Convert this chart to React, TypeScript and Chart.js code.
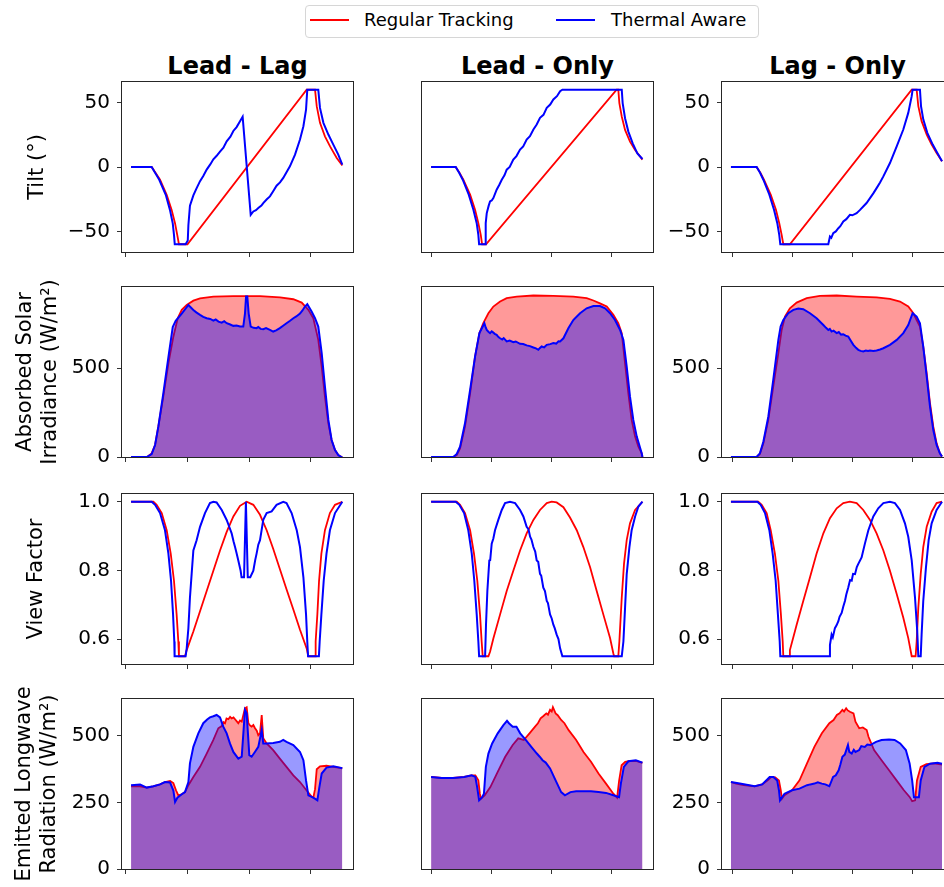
import React, { useEffect, useRef } from 'react';
import { Chart, registerables } from 'chart.js';

Chart.register(...registerables);
Chart.defaults.font.family = "'DejaVu Sans', sans-serif";

type Pt = [number, number];

// ---------- text ----------
const columnTitles = ['Lead - Lag', 'Lead - Only', 'Lag - Only'];
const seriesNames = ['Regular Tracking', 'Thermal Aware'];
const rowTitles: (string | string[])[] = [
  'Tilt (°)',
  ['Absorbed Solar', 'Irradiance (W/m²)'],
  'View Factor',
  ['Emitted Longwave', 'Radiation (W/m²)'],
];

// ---------- axes ----------
const hourTicks = [4, 8, 12, 16];
const columnHourRange: Pt[] = [[3.806, 18.71], [3.353, 18.753], [3.313, 18.713]];
const tiltTicks = [-50, 0, 50];
const tiltRange: Pt = [-66, 66];
const absorbedTicks = [0, 500];
const absorbedRange: Pt = [0, 958];
const viewFactorTicks = [0.6, 0.8, 1.0];
const viewFactorRange: Pt = [0.5275, 1.0225];
const emittedTicks = [0, 250, 500];
const emittedRange: Pt = [0, 639];

// ---------- Tilt (deg) ----------
const leadLagTiltRegular: Pt[] = [[4.39,0],[5.72,0],[6.0,-5],[6.26,-9.9],[6.69,-21.6],[7.01,-33.3],[7.23,-43.8],[7.37,-52.7],[7.48,-60],[8.03,-60],[15.72,60],[16.26,60],[16.37,47.2],[16.58,34.3],[16.9,23.8],[17.23,16.0],[17.66,7.0],[18.02,1.2]];
const leadLagTiltThermal: Pt[] = [[4.39,0],[5.72,0],[5.97,-5],[6.21,-9.9],[6.63,-21.6],[6.9,-33.3],[7.08,-43.8],[7.16,-52.7],[7.21,-60],[7.91,-60],[8.05,-57],[8.09,-45],[8.19,-30],[8.41,-22],[8.6,-17],[8.84,-11],[9.05,-7],[9.27,-2],[9.5,2],[9.7,6],[9.9,8.5],[10.13,12],[10.35,15],[10.56,20],[10.8,23.5],[10.99,28],[11.2,31],[11.42,35.5],[11.59,39],[12.11,-37.1],[12.28,-34.5],[12.45,-33.5],[12.6,-31.9],[12.8,-30],[12.92,-28],[13.15,-25],[13.35,-22.8],[13.55,-19],[13.78,-14.5],[14.0,-12],[14.21,-8.5],[14.42,-4],[14.64,0.5],[14.97,9.6],[15.29,21.3],[15.51,31.7],[15.68,44.6],[15.76,60],[16.47,60],[16.58,45.9],[16.8,34.3],[17.12,25.2],[17.44,17.4],[17.76,9.6],[18.02,1.8]];
const leadOnlyTiltRegular: Pt[] = [[3.96,0],[5.6,0],[5.85,-4.5],[6.11,-9.9],[6.56,-21.5],[6.89,-33.2],[7.11,-43.6],[7.27,-52.7],[7.36,-60],[7.62,-60],[16.33,60],[16.44,60],[16.51,49.6],[16.67,39.2],[16.89,28.8],[17.22,19.7],[17.56,13.2],[18.05,5.7]];
const leadOnlyTiltThermal: Pt[] = [[3.96,0],[5.6,0],[5.83,-4.5],[6.07,-9.9],[6.47,-21.5],[6.78,-33.2],[7.0,-43.6],[7.11,-52.7],[7.16,-60],[7.56,-60],[7.6,-43.6],[7.67,-35.8],[7.8,-30],[7.89,-26.7],[8.0,-26],[8.11,-24.1],[8.33,-17.6],[8.5,-14],[8.67,-9.9],[8.85,-6.5],[9.0,-2.1],[9.2,0],[9.44,5.7],[9.65,8.5],[9.89,13.5],[10.1,16],[10.33,21.3],[10.55,24],[10.78,29.1],[11.0,33],[11.22,38.2],[11.45,40.5],[11.67,45.9],[11.9,48.5],[12.11,52.4],[12.35,55],[12.56,58.9],[12.71,60],[16.67,60],[16.73,49.6],[16.89,37.9],[17.11,27.5],[17.4,18.4],[17.71,10.6],[18.05,6.2]];
const lagOnlyTiltRegular: Pt[] = [[3.91,0],[5.62,0],[5.87,-4.5],[6.11,-9.9],[6.56,-21.5],[6.91,-33.2],[7.13,-43.6],[7.29,-52.7],[7.4,-60],[7.84,-60],[15.96,60],[16.29,60],[16.4,47.3],[16.62,35.6],[16.96,25.2],[17.29,17.4],[17.62,10.9],[17.98,4.4]];
const lagOnlyTiltThermal: Pt[] = [[3.91,0],[5.62,0],[5.85,-4.5],[6.07,-9.9],[6.47,-21.5],[6.78,-33.2],[7.0,-43.6],[7.13,-52.7],[7.2,-60],[10.4,-60],[10.51,-54.0],[10.6,-55],[10.73,-51.4],[10.9,-50],[11.07,-47.5],[11.2,-46],[11.4,-42.3],[11.6,-40.5],[11.84,-37.1],[12.0,-37.5],[12.29,-35.8],[12.5,-33.5],[12.73,-30.7],[12.95,-28],[13.18,-24.2],[13.4,-20.5],[13.62,-16.4],[13.85,-12],[14.07,-7.3],[14.51,3.1],[14.96,16.1],[15.4,29.1],[15.73,42.0],[15.96,55.0],[16.02,60],[16.51,60],[16.58,47.3],[16.73,37],[17.0,26.5],[17.36,17.4],[17.67,10.9],[17.98,4.4]];

// ---------- Absorbed solar irradiance (W/m2) ----------
const leadLagAbsorbedRegular: Pt[] = [[4.39,0],[5.4,0],[5.51,5.6],[5.72,20.7],[5.94,67.6],[6.15,171],[6.47,340],[6.8,528],[7.12,678],[7.4,782],[7.66,829],[7.98,857],[8.41,881],[8.84,894],[9.7,904],[10.99,907],[12.71,907],[14.0,900],[14.86,889],[15.4,870],[15.83,829],[16.15,782],[16.47,660],[16.69,509],[16.9,340],[17.12,190],[17.33,96],[17.55,39.5],[17.76,11.3],[17.92,1.9],[18.02,0]];
const leadLagAbsorbedThermal: Pt[] = [[4.39,0],[5.4,0],[5.72,16.9],[5.94,67.6],[6.15,171],[6.47,357],[6.8,563],[7.08,733],[7.27,767],[7.66,808],[8.09,857],[8.41,829],[8.6,815],[8.84,801],[9.05,790],[9.27,782],[9.5,778],[9.7,769],[9.85,775],[10.03,763],[10.24,757],[10.4,765],[10.56,754],[10.75,748],[10.99,739],[11.2,741],[11.42,735],[11.63,735],[11.74,808],[11.81,904],[11.89,904],[11.98,808],[12.11,735],[12.3,728],[12.49,726],[12.6,733],[12.75,722],[12.92,720],[13.1,726],[13.35,716],[13.56,707],[13.75,714],[13.99,726],[14.2,740],[14.42,754],[14.65,768],[14.86,782],[15.05,792],[15.29,808],[15.45,826],[15.61,848],[15.76,861],[16.04,820],[16.26,782],[16.47,735],[16.69,585],[16.9,397],[17.12,209],[17.33,96],[17.55,39.5],[17.76,11.3],[17.92,1.9],[18.02,0]];
const leadOnlyAbsorbedRegular: Pt[] = [[3.96,0],[5.44,0],[5.67,11.3],[5.89,48.8],[6.22,171],[6.56,359],[6.89,566],[7.18,698],[7.44,754],[7.78,810],[8.11,848],[8.56,876],[9.0,895],[9.67,904],[10.78,910],[12.11,908],[13.44,904],[14.33,895],[14.78,882],[15.22,866],[15.67,848],[16.11,801],[16.44,754],[16.67,698],[16.89,528],[17.11,359],[17.33,209],[17.56,115],[17.78,58],[18.0,20.7],[18.05,0]];
const leadOnlyAbsorbedThermal: Pt[] = [[3.96,0],[5.44,0],[5.67,16.9],[5.89,58],[6.22,190],[6.56,378],[6.89,566],[7.18,698],[7.4,735],[7.51,754],[7.6,730],[7.67,716],[7.78,706],[7.89,698],[8.0,708],[8.11,701],[8.2,694],[8.33,688],[8.45,676],[8.56,669],[8.7,662],[8.8,670],[9.0,651],[9.2,656],[9.44,647],[9.6,651],[9.89,638],[10.1,637],[10.33,629],[10.55,625],[10.78,617],[10.95,612],[11.11,604],[11.2,613],[11.33,623],[11.5,618],[11.67,632],[11.9,636],[12.11,642],[12.3,639],[12.45,652],[12.56,651],[12.78,669],[13.11,725],[13.44,772],[13.89,810],[14.33,838],[14.78,851],[15.22,851],[15.56,838],[15.89,810],[16.22,772],[16.56,716],[16.78,660],[17.0,509],[17.22,340],[17.44,209],[17.67,115],[18.0,20.7],[18.05,0]];
const lagOnlyAbsorbedRegular: Pt[] = [[3.91,0],[5.62,0],[5.84,16.9],[6.07,77],[6.4,209],[6.73,397],[7.07,585],[7.29,716],[7.51,791],[7.84,838],[8.29,870],[8.96,895],[9.84,908],[10.96,910],[12.29,904],[13.62,900],[14.51,891],[15.18,876],[15.73,848],[16.07,810],[16.29,772],[16.51,735],[16.73,622],[16.96,472],[17.18,303],[17.4,171],[17.62,77],[17.84,20.7],[17.98,3]];
const lagOnlyAbsorbedThermal: Pt[] = [[3.91,0],[5.62,0],[5.84,20.7],[6.07,86],[6.4,227],[6.73,434],[7.07,660],[7.22,735],[7.4,772],[7.73,810],[8.07,829],[8.4,837],[8.73,833],[9.18,810],[9.62,782],[10.07,744],[10.25,728],[10.4,716],[10.5,722],[10.62,707],[10.75,712],[10.96,698],[11.1,704],[11.25,690],[11.4,692],[11.55,684],[11.73,679],[11.9,655],[12.07,632],[12.25,615],[12.4,604],[12.55,598],[12.73,595],[12.9,600],[13.05,597],[13.18,600],[13.4,598],[13.62,600],[13.85,606],[14.07,613],[14.51,632],[14.96,660],[15.4,698],[15.73,744],[16.02,810],[16.29,791],[16.51,754],[16.73,622],[16.96,453],[17.18,284],[17.4,152],[17.62,68],[17.84,20.7],[17.98,3]];

// ---------- View factor ----------
const leadLagViewRegular: Pt[] = [[4.39,1.0],[5.83,1.0],[6.04,0.991],[6.37,0.967],[6.69,0.917],[6.95,0.849],[7.16,0.77],[7.33,0.672],[7.44,0.593],[7.48,0.55],[7.87,0.55],[7.98,0.568],[8.41,0.622],[8.84,0.681],[9.27,0.74],[9.7,0.799],[10.13,0.858],[10.56,0.912],[10.99,0.957],[11.42,0.988],[11.85,1.0],[12.28,0.991],[12.71,0.962],[13.14,0.917],[13.56,0.863],[13.99,0.804],[14.42,0.745],[14.86,0.686],[15.29,0.627],[15.72,0.573],[15.83,0.55],[16.26,0.55],[16.3,0.593],[16.41,0.672],[16.52,0.77],[16.67,0.849],[16.9,0.917],[17.22,0.967],[17.55,0.991],[18.02,1.0]];
const leadLagViewThermal: Pt[] = [[4.39,1.0],[5.72,1.0],[5.94,0.991],[6.26,0.967],[6.58,0.917],[6.8,0.849],[6.97,0.77],[7.1,0.672],[7.18,0.593],[7.2,0.55],[7.91,0.55],[7.98,0.573],[8.09,0.632],[8.19,0.721],[8.3,0.79],[8.41,0.858],[8.62,0.888],[8.84,0.927],[9.16,0.967],[9.48,0.996],[9.7,1.0],[9.91,0.998],[10.24,0.976],[10.56,0.947],[10.7,0.93],[10.88,0.908],[11.0,0.885],[11.1,0.868],[11.2,0.85],[11.31,0.829],[11.46,0.799],[11.52,0.78],[11.68,0.78],[11.8,1.0],[11.92,0.78],[12.08,0.78],[12.28,0.799],[12.4,0.83],[12.49,0.849],[12.6,0.875],[12.71,0.888],[12.92,0.947],[13.14,0.967],[13.46,0.972],[13.78,0.991],[14.21,1.0],[14.42,0.996],[14.75,0.967],[15.08,0.917],[15.29,0.868],[15.51,0.78],[15.68,0.672],[15.76,0.593],[15.81,0.55],[16.51,0.55],[16.56,0.593],[16.67,0.672],[16.82,0.77],[17.0,0.849],[17.22,0.917],[17.55,0.967],[18.02,1.0]];
const leadOnlyViewRegular: Pt[] = [[3.96,1.0],[5.67,1.0],[5.89,0.991],[6.22,0.967],[6.56,0.917],[6.82,0.849],[7.04,0.77],[7.22,0.672],[7.33,0.593],[7.4,0.55],[7.78,0.55],[7.89,0.563],[8.11,0.602],[8.56,0.672],[9.0,0.74],[9.44,0.799],[9.89,0.858],[10.33,0.908],[10.78,0.947],[11.22,0.976],[11.67,0.996],[12.0,1.0],[12.33,0.998],[12.78,0.984],[13.22,0.954],[13.67,0.917],[14.11,0.868],[14.56,0.809],[15.0,0.74],[15.44,0.672],[15.89,0.603],[16.11,0.558],[16.16,0.55],[16.44,0.55],[16.51,0.593],[16.67,0.721],[16.82,0.819],[17.0,0.888],[17.22,0.937],[17.56,0.976],[18.05,1.0]];
const leadOnlyViewThermal: Pt[] = [[3.96,1.0],[5.6,1.0],[5.84,0.991],[6.16,0.967],[6.44,0.917],[6.67,0.849],[6.84,0.77],[7.0,0.672],[7.11,0.593],[7.16,0.55],[7.56,0.55],[7.62,0.642],[7.71,0.74],[7.84,0.829],[7.9,0.83],[8.0,0.878],[8.11,0.893],[8.22,0.917],[8.44,0.947],[8.67,0.976],[8.89,0.996],[9.22,1.0],[9.56,0.996],[9.89,0.976],[10.11,0.957],[10.2,0.945],[10.33,0.927],[10.45,0.92],[10.56,0.898],[10.65,0.89],[10.78,0.868],[10.9,0.855],[11.0,0.829],[11.1,0.825],[11.22,0.79],[11.3,0.785],[11.44,0.75],[11.55,0.74],[11.67,0.711],[11.75,0.705],[11.89,0.672],[12.0,0.66],[12.11,0.642],[12.2,0.632],[12.33,0.613],[12.45,0.6],[12.56,0.573],[12.71,0.55],[16.67,0.55],[16.78,0.593],[16.89,0.691],[17.0,0.789],[17.18,0.868],[17.33,0.917],[17.56,0.957],[17.78,0.986],[18.05,1.0]];
const lagOnlyViewRegular: Pt[] = [[3.91,1.0],[5.73,1.0],[5.96,0.991],[6.29,0.967],[6.56,0.917],[6.84,0.849],[7.07,0.77],[7.24,0.672],[7.36,0.593],[7.4,0.55],[7.8,0.55],[7.84,0.568],[8.29,0.642],[8.73,0.711],[9.18,0.78],[9.62,0.849],[10.07,0.908],[10.51,0.952],[10.96,0.981],[11.4,0.996],[11.84,1.0],[12.29,0.996],[12.73,0.976],[13.18,0.947],[13.62,0.908],[14.07,0.858],[14.51,0.799],[14.96,0.731],[15.4,0.662],[15.73,0.603],[15.96,0.55],[16.22,0.55],[16.29,0.593],[16.4,0.691],[16.56,0.789],[16.73,0.868],[16.96,0.927],[17.29,0.971],[17.62,0.996],[17.98,1.0]];
const lagOnlyViewThermal: Pt[] = [[3.91,1.0],[5.67,1.0],[5.89,0.991],[6.18,0.967],[6.47,0.917],[6.69,0.849],[6.89,0.77],[7.04,0.672],[7.16,0.593],[7.2,0.55],[10.47,0.55],[10.51,0.583],[10.62,0.613],[10.7,0.605],[10.84,0.632],[10.95,0.64],[11.07,0.652],[11.15,0.665],[11.29,0.676],[11.4,0.695],[11.51,0.711],[11.6,0.73],[11.73,0.75],[11.85,0.772],[11.96,0.77],[12.05,0.79],[12.18,0.789],[12.3,0.81],[12.4,0.819],[12.62,0.838],[12.84,0.878],[13.07,0.917],[13.4,0.957],[13.73,0.981],[14.07,0.996],[14.51,1.0],[14.84,0.996],[15.18,0.976],[15.51,0.937],[15.73,0.898],[15.96,0.829],[16.18,0.721],[16.33,0.622],[16.4,0.55],[16.56,0.55],[16.62,0.613],[16.73,0.711],[16.91,0.809],[17.09,0.888],[17.29,0.937],[17.62,0.976],[17.98,1.0]];

// ---------- Emitted longwave radiation (W/m2) ----------
const leadLagEmittedRegular: Pt[] = [[4.39,311],[4.97,311],[5.4,306],[5.83,311],[6.26,318],[6.58,327],[6.91,331],[7.12,323],[7.29,296],[7.44,277],[7.66,281],[7.87,289],[8.09,315],[8.41,346],[8.84,384],[9.27,434],[9.7,485],[10.02,529],[10.24,537],[10.35,552],[10.45,548],[10.55,566],[10.67,563],[10.78,572],[10.88,566],[11.0,570],[11.1,563],[11.2,556],[11.31,548],[11.42,558],[11.53,554],[11.74,604],[11.85,608],[11.96,548],[12.06,540],[12.17,535],[12.28,541],[12.38,530],[12.5,520],[12.6,503],[12.71,510],[12.82,579],[12.92,491],[13.14,472],[13.56,447],[13.99,415],[14.42,384],[14.86,352],[15.29,327],[15.72,295],[16.04,272],[16.15,268],[16.26,300],[16.37,375],[16.58,386],[17.0,388],[17.44,384],[17.87,380],[18.02,378]];
const leadLagEmittedThermal: Pt[] = [[4.39,315],[4.97,318],[5.4,306],[5.83,311],[6.26,318],[6.58,327],[6.91,325],[7.12,295],[7.23,252],[7.38,268],[7.66,281],[7.87,289],[8.09,327],[8.19,397],[8.41,459],[8.73,510],[9.05,548],[9.3,562],[9.48,570],[9.7,574],[9.91,579],[10.13,570],[10.34,535],[10.56,510],[10.77,472],[10.99,440],[11.31,415],[11.53,422],[11.74,598],[11.85,585],[12.02,428],[12.17,422],[12.38,440],[12.6,459],[12.82,522],[12.92,472],[13.14,472],[13.56,474],[13.99,478],[14.21,485],[14.42,478],[14.86,466],[15.29,440],[15.51,409],[15.68,333],[15.83,277],[16.15,268],[16.41,258],[16.54,308],[16.69,359],[17.0,381],[17.44,386],[17.87,381],[18.02,379]];
const leadOnlyEmittedRegular: Pt[] = [[3.96,346],[4.67,342],[5.42,342],[6.16,346],[6.66,352],[6.91,352],[7.11,333],[7.21,283],[7.28,264],[7.53,277],[7.91,308],[8.4,365],[8.9,422],[9.4,466],[9.77,491],[10.14,485],[10.52,510],[10.89,535],[11.08,548],[11.26,566],[11.45,575],[11.64,585],[11.75,580],[11.89,598],[12.0,592],[12.08,608],[12.26,585],[12.4,578],[12.63,560],[12.85,548],[13.13,522],[13.63,485],[14.12,440],[14.62,403],[15.12,359],[15.62,321],[16.11,283],[16.36,268],[16.49,330],[16.66,390],[16.9,403],[17.23,406],[17.61,406],[18.05,399]];
const leadOnlyEmittedThermal: Pt[] = [[3.96,346],[4.67,342],[5.42,342],[6.16,346],[6.66,352],[6.91,346],[7.03,308],[7.16,258],[7.36,270],[7.48,283],[7.61,384],[7.78,434],[8.03,472],[8.4,510],[8.78,541],[9.02,557],[9.15,548],[9.4,535],[9.65,535],[9.9,510],[10.27,485],[10.64,459],[11.01,434],[11.2,422],[11.39,409],[11.6,400],[11.89,378],[12.26,333],[12.63,289],[12.88,277],[13.25,289],[13.63,292],[14.12,292],[14.62,292],[15.12,289],[15.62,286],[16.11,277],[16.49,270],[16.61,321],[16.81,384],[17.11,405],[17.61,409],[18.05,400]];
const lagOnlyEmittedRegular: Pt[] = [[3.91,327],[4.25,321],[4.75,315],[5.49,311],[5.99,318],[6.36,333],[6.61,346],[6.86,344],[7.11,333],[7.23,296],[7.31,264],[7.48,277],[7.98,296],[8.48,333],[8.98,397],[9.47,459],[9.97,510],[10.47,548],[10.75,560],[10.97,579],[11.15,585],[11.34,598],[11.45,592],[11.59,604],[11.7,596],[11.84,591],[12.08,585],[12.21,554],[12.46,529],[12.7,532],[12.96,522],[13.08,497],[13.45,447],[13.95,409],[14.45,371],[14.95,333],[15.44,296],[15.82,271],[15.99,255],[16.19,258],[16.31,333],[16.56,384],[16.94,394],[17.43,397],[17.98,392]];
const lagOnlyEmittedThermal: Pt[] = [[3.91,327],[4.5,321],[5.49,311],[5.99,318],[6.49,346],[6.74,346],[6.99,333],[7.11,296],[7.18,258],[7.48,283],[7.98,296],[8.48,302],[8.98,315],[9.2,318],[9.47,321],[9.7,326],[9.97,321],[10.2,318],[10.47,311],[10.72,346],[10.9,352],[11.09,371],[11.2,392],[11.34,422],[11.5,430],[11.71,466],[11.8,440],[11.96,434],[12.1,448],[12.21,440],[12.46,447],[12.6,462],[12.83,459],[13.0,468],[13.2,466],[13.58,478],[13.95,485],[14.45,487],[14.82,485],[15.19,472],[15.57,447],[15.82,397],[15.99,333],[16.11,270],[16.44,270],[16.56,333],[16.81,384],[17.18,396],[17.68,399],[17.98,396]];

// ---------- grid of panels ----------
const panelSeries: [Pt[], Pt[]][][] = [
  [[leadLagTiltRegular, leadLagTiltThermal], [leadOnlyTiltRegular, leadOnlyTiltThermal], [lagOnlyTiltRegular, lagOnlyTiltThermal]],
  [[leadLagAbsorbedRegular, leadLagAbsorbedThermal], [leadOnlyAbsorbedRegular, leadOnlyAbsorbedThermal], [lagOnlyAbsorbedRegular, lagOnlyAbsorbedThermal]],
  [[leadLagViewRegular, leadLagViewThermal], [leadOnlyViewRegular, leadOnlyViewThermal], [lagOnlyViewRegular, lagOnlyViewThermal]],
  [[leadLagEmittedRegular, leadLagEmittedThermal], [leadOnlyEmittedRegular, leadOnlyEmittedThermal], [lagOnlyEmittedRegular, lagOnlyEmittedThermal]],
];
const rowRanges: Pt[] = [tiltRange, absorbedRange, viewFactorRange, emittedRange];
const rowTicks = [tiltTicks, absorbedTicks, viewFactorTicks, emittedTicks];
const rowFilled = [false, true, false, true];

// ---------- layout (pixels) ----------
const PANEL_W = 231;
const PANEL_H = 170;
const COL_X = [122, 422, 722];
const ROW_Y = [82, 287, 494, 699];
const AXIS_W = [122, 4, 82];
const PAD_TOP = 30;
const PAD_RIGHT = 4;
const XAXIS_H = 8;
const PAD_BOTTOM = 24;
const TITLE_PAD = [25, 13, 24, 12];

const RED = '#ff0000';
const BLUE = '#0000ff';

function fmtTick(v: number, row: number): string {
  if (row === 2) return v.toFixed(1);
  return v < 0 ? '\u2212' + Math.abs(v) : String(v);
}

const spinePlugin = {
  id: 'spines',
  afterDatasetsDraw(chart: any) {
    const { ctx, chartArea: a } = chart;
    ctx.save();
    ctx.strokeStyle = '#262626';
    ctx.lineWidth = 1;
    ctx.strokeRect(Math.round(a.left) - 0.5, Math.round(a.top) - 0.5, Math.round(a.right - a.left) + 1, Math.round(a.bottom - a.top) + 1);
    ctx.restore();
  },
};

function Panel({ row, col }: { row: number; col: number }) {
  const ref = useRef<HTMLCanvasElement | null>(null);
  const axisW = AXIS_W[col];
  const width = axisW + PANEL_W + PAD_RIGHT;
  const height = PAD_TOP + PANEL_H + XAXIS_H + PAD_BOTTOM;
  const left = COL_X[col] - axisW;
  const top = ROW_Y[row] - PAD_TOP;

  useEffect(() => {
    const [regular, thermal] = panelSeries[row][col];
    const fill = rowFilled[row];
    const showY = col !== 1;
    const title = col === 0 ? rowTitles[row] : '';
    const chart = new Chart(ref.current as HTMLCanvasElement, {
      type: 'line',
      data: {
        datasets: [
          {
            label: seriesNames[0],
            data: regular.map(([x, y]) => ({ x, y })),
            borderColor: RED,
            backgroundColor: 'rgba(255,0,0,0.4)',
            borderWidth: 1.8,
            fill: fill ? 'origin' : false,
            pointRadius: 0,
            tension: 0,
            order: 2,
          },
          {
            label: seriesNames[1],
            data: thermal.map(([x, y]) => ({ x, y })),
            borderColor: BLUE,
            backgroundColor: 'rgba(0,0,255,0.4)',
            borderWidth: 2,
            fill: fill ? 'origin' : false,
            pointRadius: 0,
            tension: 0,
            order: 1,
          },
        ],
      },
      options: {
        animation: false,
        responsive: false,
        events: [],
        layout: { padding: { left: 0, right: PAD_RIGHT, top: PAD_TOP, bottom: PAD_BOTTOM } },
        plugins: { legend: { display: false }, tooltip: { enabled: false } },
        scales: {
          x: {
            type: 'linear',
            min: columnHourRange[col][0],
            max: columnHourRange[col][1],
            afterBuildTicks: (s: any) => { s.ticks = hourTicks.map((v) => ({ value: v })); },
            afterFit: (s: any) => { s.height = XAXIS_H; },
            ticks: { display: false },
            grid: { display: true, drawOnChartArea: false, drawTicks: true, tickLength: 5, color: '#333', lineWidth: 1 },
            border: { display: false },
          },
          y: {
            type: 'linear',
            min: rowRanges[row][0],
            max: rowRanges[row][1],
            afterBuildTicks: (s: any) => { s.ticks = rowTicks[row].map((v) => ({ value: v })); },
            afterFit: (s: any) => { s.width = axisW; },
            ticks: {
              display: showY,
              color: '#000',
              padding: 7,
              font: { size: 20 },
              callback: (v: any) => fmtTick(Number(v), row),
            },
            grid: { display: showY, drawOnChartArea: false, drawTicks: true, tickLength: 5, color: '#333', lineWidth: 1 },
            border: { display: false },
            title: {
              display: col === 0,
              text: title as any,
              color: '#000',
              font: { size: 21, lineHeight: 1.2 },
              padding: { top: TITLE_PAD[row], bottom: 0 },
            },
          },
        },
      },
      plugins: [spinePlugin],
    } as any);
    return () => chart.destroy();
  }, [row, col]);

  return (
    <canvas
      ref={ref}
      width={width}
      height={height}
      style={{ position: 'absolute', left, top, width, height }}
    />
  );
}

export default function App() {
  const cells: JSX.Element[] = [];
  for (let r = 0; r < 4; r++) {
    for (let c = 0; c < 3; c++) cells.push(<Panel key={`${r}-${c}`} row={r} col={c} />);
  }
  const font = "'DejaVu Sans', sans-serif";
  return (
    <div style={{ position: 'absolute', left: 0, top: 0, width: 944, height: 887, overflow: 'hidden', background: '#fff', fontFamily: font }}>
      {/* legend */}
      <div style={{ position: 'absolute', left: 305, top: 5, width: 454, height: 33, border: '1px solid #d6d6d6', borderRadius: 4, boxSizing: 'border-box' }} />
      <div style={{ position: 'absolute', left: 310, top: 19, width: 39, height: 2, background: RED }} />
      <div style={{ position: 'absolute', left: 364, top: 10, fontSize: 18, lineHeight: '20px', whiteSpace: 'nowrap', color: '#000' }}>{seriesNames[0]}</div>
      <div style={{ position: 'absolute', left: 556, top: 19, width: 39, height: 2, background: BLUE }} />
      <div style={{ position: 'absolute', left: 611, top: 10, fontSize: 18, lineHeight: '20px', whiteSpace: 'nowrap', color: '#000' }}>{seriesNames[1]}</div>
      {/* column titles */}
      {columnTitles.map((t, i) => (
        <div key={t} style={{ position: 'absolute', left: COL_X[i] + PANEL_W / 2 - 150, top: 52, width: 300, textAlign: 'center', fontSize: 24, fontWeight: 'bold', lineHeight: '28px', color: '#000', whiteSpace: 'nowrap' }}>{t}</div>
      ))}
      {cells}
    </div>
  );
}
